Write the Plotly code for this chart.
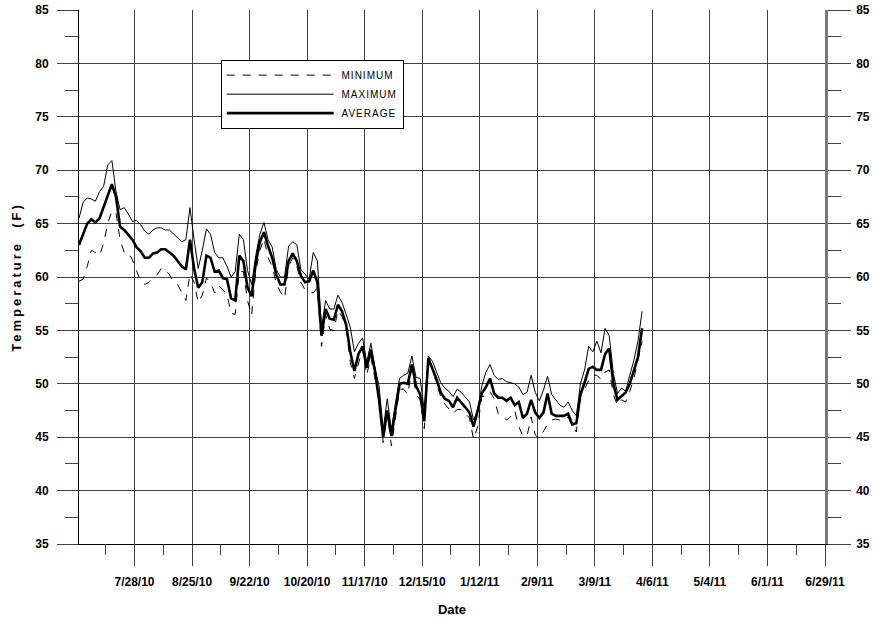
import pandas as pd
import plotly.graph_objects as go

# Daily-temperature readings sampled every 2 days starting 7/1/10
start_date = "2010-07-01"
step = "2D"

average = [
    63.0, 64.0, 65.0, 65.4, 65.1, 65.5, 66.6, 67.5, 68.7, 67.5,
    64.7, 64.4, 64.0, 63.5, 62.8, 62.4, 61.8, 61.8, 62.2, 62.3,
    62.6, 62.6, 62.3, 62.0, 61.5, 61.0, 60.7, 63.5, 60.8, 59.0,
    59.5, 62.0, 61.8, 60.5, 60.6, 59.9, 59.8, 58.0, 57.8, 62.0,
    61.5, 59.0, 58.2, 61.3, 63.3, 64.2, 62.9, 61.8, 60.2, 59.3,
    59.3, 61.5, 62.2, 61.5, 60.1, 59.5, 59.6, 60.6, 59.5, 54.5,
    57.0, 56.1, 56.0, 57.4, 56.8, 55.5, 53.0, 51.2, 52.8, 53.5,
    51.5, 53.2, 51.2, 48.5, 45.0, 47.5, 45.1, 47.6, 50.0, 50.1,
    50.0, 51.8, 49.8, 49.0, 46.5, 52.4, 51.4, 50.4, 49.2, 48.6,
    48.4, 47.8, 48.7, 48.3, 47.8, 47.3, 46.0, 47.5, 49.1, 49.7,
    50.5, 49.1, 48.7, 48.7, 48.4, 48.7, 48.0, 48.3, 46.8, 47.2,
    48.5, 47.3, 46.8, 47.3, 49.1, 47.2, 47.0, 47.0, 47.0, 47.2,
    46.2, 46.3, 49.0, 50.1, 51.4, 51.6, 51.3, 51.3, 52.8, 53.3,
    50.0, 48.5, 48.9, 49.2, 50.0, 51.3, 52.5, 55.2,
]

maximum = [
    65.5, 67.0, 67.4, 67.3, 67.1, 68.0, 68.5, 70.5, 70.9, 68.0,
    66.3, 66.5, 65.9, 65.2, 65.3, 64.9, 64.3, 64.0, 64.4, 64.6,
    64.6, 64.4, 64.4, 64.0, 63.6, 63.3, 63.5, 66.5, 63.5, 60.8,
    62.5, 64.5, 64.0, 62.3, 61.8, 61.8, 61.0, 60.0, 60.5, 64.0,
    63.5, 60.6, 59.3, 62.0, 64.0, 65.1, 63.5, 62.8, 60.7, 60.0,
    60.0, 62.9, 63.3, 63.0, 60.7, 60.3, 59.8, 62.3, 61.5, 55.2,
    57.8, 57.0, 57.0, 58.3, 57.6, 56.5, 55.3, 53.0, 53.8, 54.3,
    52.0, 53.8, 51.5, 49.8, 45.7, 48.6, 45.7, 48.2, 50.5, 50.8,
    51.0, 52.6, 50.6, 50.5, 47.5, 52.6, 52.1, 51.1, 50.1, 49.6,
    49.3, 48.8, 49.5, 49.2, 48.8, 48.3, 46.6, 47.5, 49.8, 51.1,
    51.8, 50.8, 50.4, 50.5, 50.2, 50.1, 50.0, 49.7, 49.0, 49.2,
    50.8, 49.2, 48.4, 49.4, 50.7, 49.0, 48.5, 48.0, 47.8, 48.3,
    47.5, 47.0, 50.0, 51.3, 53.5, 53.0, 54.0, 52.9, 55.2, 54.5,
    51.0, 49.1, 49.6, 49.3, 50.8, 52.2, 54.0, 56.8,
]

minimum = [
    59.6, 59.8, 61.0, 62.5, 62.3, 62.0, 63.2, 65.0, 66.2, 66.0,
    63.5, 62.3, 62.3, 61.6, 60.6, 59.6, 59.3, 59.5, 59.9, 60.2,
    60.8, 60.7, 60.2, 59.6, 59.3, 58.5, 57.8, 60.3, 59.5, 57.6,
    58.3, 59.9, 59.5, 58.5, 59.2, 58.8, 58.4, 56.6, 56.5, 60.5,
    60.5, 57.8, 56.4, 60.5, 62.5, 63.6, 61.8, 61.0, 59.4, 58.6,
    58.0, 61.0, 61.8, 61.0, 59.5, 58.8, 58.6, 58.5, 59.0, 53.5,
    56.5, 55.1, 55.0, 56.9, 56.3, 55.2, 52.0, 50.5, 51.8, 53.3,
    50.8, 52.5, 50.5, 49.0, 44.5, 47.3, 44.2, 47.0, 49.5, 49.5,
    49.0, 51.4, 49.0, 48.5, 45.8, 52.0, 51.4, 50.0, 48.8, 48.1,
    47.6, 47.2, 47.6, 47.6, 47.2, 46.8, 44.8, 46.0, 48.8, 48.9,
    49.3, 48.6, 47.2, 47.0, 46.6, 46.9, 47.5, 46.0, 45.1, 45.1,
    46.9, 45.2, 44.9, 45.6, 46.2, 46.6, 46.7, 46.6, 46.6, 46.9,
    46.0, 45.5, 48.8, 49.5, 50.3, 50.8, 50.8, 50.4, 51.1, 51.3,
    49.0, 48.0, 48.5, 48.3, 49.3, 50.5, 52.2, 54.0,
]

dates = pd.date_range(start_date, periods=len(average), freq=step)

x_range = ["2010-07-01", "2011-06-29"]
y_range = [35, 85]
DAY_MS = 86400000

FONT = "Liberation Sans, Arial, sans-serif"
GRID = "#404040"
NB = "\u00a0"


def legend_name(s):
    return NB + '<span style="letter-spacing:1px">' + s + "</span>"


fig = go.Figure()
fig.add_trace(go.Scatter(x=dates, y=minimum, mode="lines",
                         name=legend_name("MINIMUM"),
                         line=dict(color="black", width=1, dash="8px,8px")))
fig.add_trace(go.Scatter(x=dates, y=maximum, mode="lines",
                         name=legend_name("MAXIMUM"),
                         line=dict(color="black", width=1)))
fig.add_trace(go.Scatter(x=dates, y=average, mode="lines",
                         name=legend_name("AVERAGE"),
                         line=dict(color="black", width=2.6)))
# carrier for the right-hand axis
fig.add_trace(go.Scatter(x=dates[:1], y=average[:1], yaxis="y2", mode="markers",
                         marker=dict(opacity=0), showlegend=False, hoverinfo="skip"))

tickfont = dict(family=FONT, size=12, color="black", weight="bold")

fig.update_layout(
    width=873, height=619,
    margin=dict(l=79, r=48, t=10, b=75, autoexpand=False),
    paper_bgcolor="white", plot_bgcolor="white",
    showlegend=True,
    legend=dict(x=0.19, y=0.907, xanchor="left", yanchor="top",
                bgcolor="white", bordercolor="black", borderwidth=1,
                itemwidth=107, font=dict(family=FONT, size=10, color="black"),
                traceorder="normal"),
    xaxis=dict(
        type="date", range=x_range,
        tick0="2010-07-28", dtick=28 * DAY_MS, tickformat="%-m/%-d/%y",
        showgrid=True, gridcolor=GRID, gridwidth=1,
        ticks="outside", ticklen=21, tickcolor=GRID, tickwidth=1,
        showline=True, linecolor="black", linewidth=1,
        zeroline=False, tickfont=tickfont, ticklabelstandoff=6,
        minor=dict(ticks="outside", ticklen=10, tickcolor=GRID, tickwidth=1,
                   tick0="2010-07-14", dtick=14 * DAY_MS, showgrid=False),
        title=dict(text="Date", font=dict(family=FONT, size=13, color="black", weight="bold"),
                   standoff=16),
    ),
    yaxis=dict(
        range=y_range, tick0=35, dtick=5,
        showgrid=True, gridcolor=GRID, gridwidth=1,
        ticks="outside", ticklen=21, tickcolor=GRID, tickwidth=1,
        showline=True, linecolor="black", linewidth=1,
        zeroline=False, tickfont=tickfont, ticklabelstandoff=6,
        minor=dict(ticks="outside", ticklen=13, tickcolor=GRID, tickwidth=1,
                   tick0=35, dtick=2.5, showgrid=False),
        title=dict(text='<span style="letter-spacing:3px">Temperature  (F)</span>',
                   font=dict(family=FONT, size=13, color="black", weight="bold"),
                   standoff=10),
    ),
    yaxis2=dict(
        overlaying="y", side="right", anchor="x",
        range=y_range, tick0=35, dtick=5,
        showgrid=False,
        ticks="outside", ticklen=23, tickcolor=GRID, tickwidth=1,
        showline=True, linecolor="#7a7a7a", linewidth=2.5,
        zeroline=False, tickfont=tickfont, ticklabelstandoff=3,
        minor=dict(ticks="outside", ticklen=13, tickcolor=GRID, tickwidth=1,
                   tick0=35, dtick=2.5, showgrid=False),
    ),
)

# remove the page's default 8px body margin so the figure sits at the window origin
fig.write_html(
    "out.html",
    config={"displayModeBar": False},
    post_script="document.body.style.margin='0px';"
                "document.documentElement.style.overflow='hidden';",
)
